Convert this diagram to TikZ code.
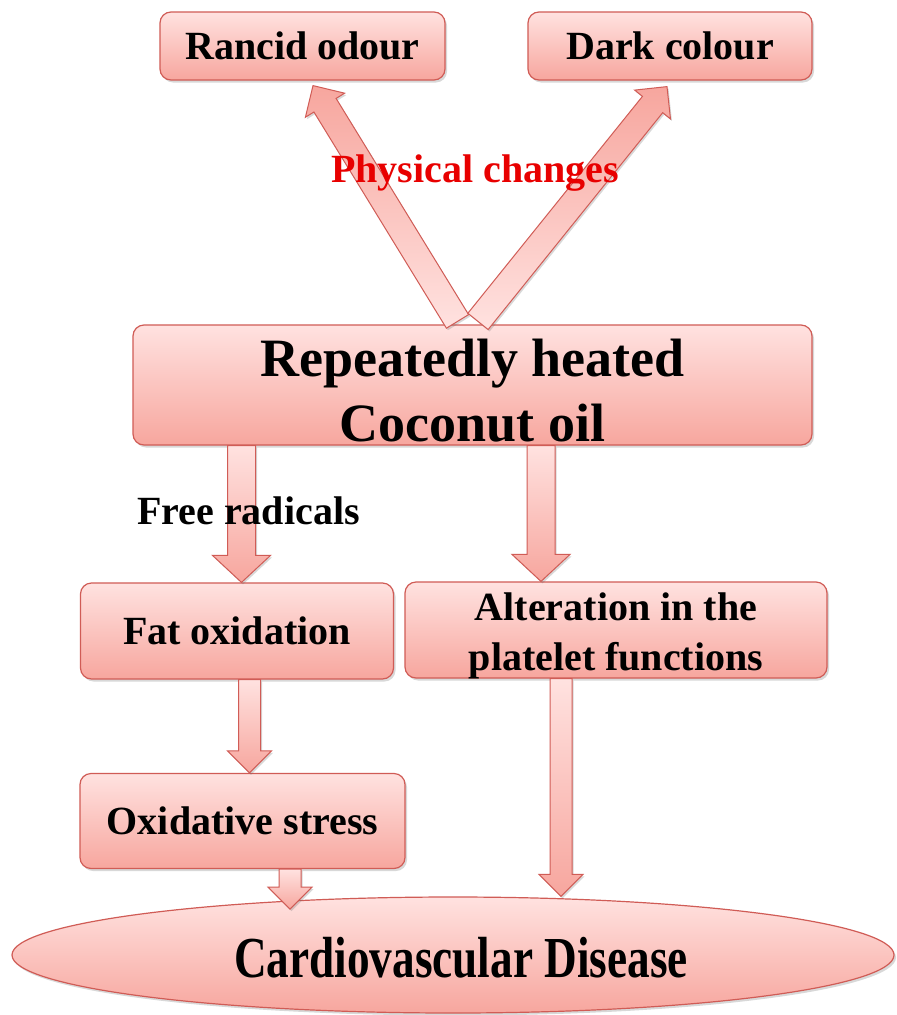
\documentclass[tikz,border=0pt]{standalone}
\usepackage{fontspec}
\setmainfont{Liberation Serif}
\newfontfamily\narrowserif[FakeStretch=0.78]{Liberation Serif}
\usetikzlibrary{calc,shapes.geometric,shadows}
\definecolor{colLIGHT}{RGB}{255,226,224}
\definecolor{colDARK}{RGB}{247,166,158}
\definecolor{colEDGE}{RGB}{208,92,86}
\definecolor{colRED}{RGB}{232,0,0}
% block arrow: [fill] {from}{to}{half shaft}{half head}{head length}
\newcommand{\blockarrow}[6][]{%
  \coordinate (ba-base) at ($(#3)!#6!(#2)$);
  \draw[barrow,#1] ($(#2)!#4!90:(#3)$) -- ($(ba-base)!#4!90:(#3)$)
    -- ($(ba-base)!#5!90:(#3)$) -- (#3) -- ($(ba-base)!#5!-90:(#3)$)
    -- ($(ba-base)!#4!-90:(#3)$) -- ($(#2)!#4!-90:(#3)$) -- cycle;}

\begin{document}
\begin{tikzpicture}[x=1pt, y=-1pt,
    shell/.style={draw=colEDGE, line width=1.2pt, top color=colLIGHT, bottom color=colDARK,
      inner sep=0pt, align=center,
      drop shadow={shadow xshift=2pt, shadow yshift=-2.5pt, opacity=.25, fill=black!60}},
    box/.style={shell, rounded corners=11pt, font=\bfseries\fontsize{40}{50}\selectfont},
    txt/.style={align=center, inner sep=0pt, font=\bfseries\fontsize{40}{50}\selectfont},
    barrow/.style={draw=colEDGE, line width=1pt, line join=miter,
      drop shadow={shadow xshift=1.5pt, shadow yshift=-2pt, opacity=.25, fill=black!60}},
    downfill/.style={top color=colLIGHT, bottom color=colDARK},
    upfill/.style={top color=colDARK, bottom color=colLIGHT},
    lbl/.style={font=\bfseries\fontsize{40}{48}\selectfont}]
  \path[use as bounding box, fill=white] (0,0) rectangle (897,1015);

  % --- boxes ---
  \node[box, minimum width=285pt, minimum height=68pt] (rancid) at (302.5,46) {Rancid odour};
  \node[box, minimum width=284pt, minimum height=68pt] (dark) at (670,46) {Dark colour};
  \node[box, minimum width=679pt, minimum height=120pt,
        label={[txt, font=\bfseries\fontsize{54}{65}\selectfont, yshift=-6pt]center:{Repeatedly heated\\Coconut oil}}]
        (main) at (472.5,385) {};
  \node[box, minimum width=313pt, minimum height=96pt] (fat) at (237,631) {Fat oxidation};
  \node[box, minimum width=422pt, minimum height=96pt,
        label={[txt, yshift=-6pt]center:{Alteration in the\\platelet functions}}]
        (alter) at (616,630) {};
  \node[box, minimum width=325pt, minimum height=95pt] (oxid) at (242.5,821) {Oxidative stress};
  \node[shell, ellipse, minimum width=882pt, minimum height=116pt,
        label={[txt, font=\narrowserif\bfseries\fontsize{58}{60}\selectfont, xshift=8pt, yshift=-3pt]center:Cardiovascular Disease}]
        (cvd) at (453,955) {};

  % --- arrow ends ---
  \coordinate (pc-l0) at ($(main.north)+(-15,-3)$);
  \coordinate (pc-l1) at ($(rancid.south)+(10.5,5)$);
  \coordinate (pc-r0) at ($(main.north)+(5.5,-3)$);
  \coordinate (pc-r1) at ($(dark.south)+(-3,6)$);
  \coordinate (fr1) at ($(fat.north)+(4.5,0)$);
  \coordinate (fr0) at (main.south -| fr1);
  \coordinate (pf1) at ($(alter.north)+(-75,0)$);
  \coordinate (pf0) at (main.south -| pf1);
  \coordinate (ox0) at ($(fat.south)+(12.5,0)$);
  \coordinate (ox1) at (oxid.north -| ox0);
  \coordinate (cv0) at ($(oxid.south)+(47.5,0)$);
  \coordinate (cv1) at ($(oxid.south)+(47.5,40)$);
  \coordinate (pl0) at ($(alter.south)+(-55,0)$);
  \coordinate (pl1) at (cvd.north -| pl0);

  % --- block arrows ---
  \blockarrow[upfill]{pc-l0}{pc-l1}{13pt}{23pt}{23pt}
  \blockarrow[upfill]{pc-r0}{pc-r1}{13pt}{23pt}{23pt}
  \blockarrow[downfill]{fr0}{fr1}{14pt}{29pt}{27pt}
  \blockarrow[downfill]{pf0}{pf1}{14pt}{29pt}{27pt}
  \blockarrow[downfill]{ox0}{ox1}{11pt}{22pt}{22pt}
  \blockarrow[downfill]{cv0}{cv1}{11pt}{22pt}{22pt}
  \blockarrow[downfill]{pl0}{pl1}{11pt}{22pt}{22pt}

  % --- labels ---
  \node[lbl, colRED] (phys) at (475,173) {Physical changes};
  \node[lbl] (free) at (248.5,511) {Free radicals};
\end{tikzpicture}
\end{document}
